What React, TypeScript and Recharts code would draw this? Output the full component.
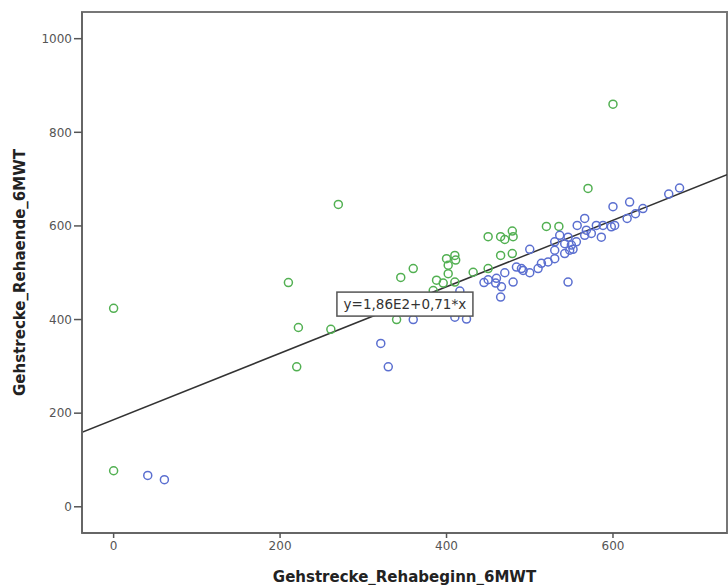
import {
  ScatterChart,
  Scatter,
  XAxis,
  YAxis,
  ReferenceLine,
  ReferenceArea,
  ReferenceDot,
} from "recharts";

// 6MWT walking distance at start of rehab (x) vs. end of rehab (y)
const greenStart = [0, 0, 210, 222, 220, 261, 270, 340, 345, 360, 384, 388, 396, 400, 410, 411, 402, 402, 410, 432, 450, 450, 465, 470, 479, 480, 465, 479, 520, 535, 570, 600];
const greenEnd = [424, 77, 479, 383, 299, 379, 646, 400, 490, 509, 462, 484, 478, 530, 537, 527, 516, 498, 480, 501, 509, 577, 577, 571, 589, 577, 537, 541, 599, 599, 680, 860];

const blueStart = [41, 61, 321, 330, 360, 410, 424, 416, 445, 450, 459, 460, 466, 465, 470, 480, 484, 490, 492, 500, 500, 510, 514, 522, 530, 530, 542, 548, 546, 536, 546, 530, 542, 550, 556, 566, 568, 574, 586, 557, 566, 580, 588, 598, 602, 600, 617, 627, 620, 636, 667, 680, 552];
const blueEnd = [67, 58, 349, 299, 400, 405, 401, 461, 479, 485, 478, 488, 470, 448, 500, 480, 512, 509, 505, 500, 550, 509, 520, 523, 530, 548, 541, 548, 480, 580, 576, 566, 562, 559, 566, 580, 591, 584, 576, 601, 616, 601, 601, 598, 601, 641, 616, 626, 651, 637, 668, 681, 550];

const xTicks = [0, 200, 400, 600];
const yTicks = [0, 200, 400, 600, 800, 1000];

// linear fit shown in the plot
const intercept = 186;
const slope = 0.71;
const fitLabel = "y=1,86E2+0,71*x";

const X_MIN = -38;
const X_MAX = 737;
const Y_MIN = -56;
const Y_MAX = 1057;

const green = greenStart.map((x, i) => ({ x, y: greenEnd[i] }));
const blue = blueStart.map((x, i) => ({ x, y: blueEnd[i] }));

const FONT = "'DejaVu Sans', Verdana, sans-serif";

function ring(color: string) {
  return (props: any) => (
    <circle
      cx={props.cx}
      cy={props.cy}
      r={4}
      fill="none"
      stroke={color}
      strokeWidth={1.5}
    />
  );
}

function FitLabel(props: any) {
  const { cx, cy } = props;
  const w = 136;
  const h = 24;
  return (
    <g>
      <rect
        x={cx - w / 2}
        y={cy - h / 2}
        width={w}
        height={h}
        fill="#fff"
        stroke="#555"
        strokeWidth={1.5}
      />
      <text
        x={cx}
        y={cy + 5}
        textAnchor="middle"
        fontFamily={FONT}
        fontSize={13.5}
        fill="#333"
      >
        {fitLabel}
      </text>
    </g>
  );
}

export default function App() {
  return (
    <div style={{ position: "absolute", left: 0, top: 0, background: "#fff" }}>
      <ScatterChart
        width={728}
        height={585}
        margin={{ top: 12, right: 1, bottom: 0, left: 0 }}
      >
        <ReferenceArea
          x1={X_MIN}
          x2={X_MAX}
          y1={Y_MIN}
          y2={Y_MAX}
          fill="none"
          stroke="#777"
          strokeWidth={2}
          ifOverflow="visible"
        />
        <XAxis
          type="number"
          dataKey="x"
          domain={[X_MIN, X_MAX]}
          ticks={xTicks}
          allowDataOverflow
          height={52}
          tickSize={5}
          tickMargin={3}
          axisLine={{ stroke: "#666", strokeWidth: 2 }}
          tickLine={{ stroke: "#555", strokeWidth: 1.5 }}
          tick={{ fontFamily: FONT, fontSize: 12, fill: "#555" }}
          label={{
            value: "Gehstrecke_Rehabeginn_6MWT",
            position: "insideBottom",
            offset: 3,
            style: {
              fontFamily: FONT,
              fontSize: 15,
              fontWeight: "bold",
              fill: "#222",
            },
          }}
        />
        <YAxis
          type="number"
          dataKey="y"
          domain={[Y_MIN, Y_MAX]}
          ticks={yTicks}
          allowDataOverflow
          width={82}
          tickSize={8}
          tickMargin={2}
          axisLine={{ stroke: "#666", strokeWidth: 2 }}
          tickLine={{ stroke: "#555", strokeWidth: 1.5 }}
          tick={{ fontFamily: FONT, fontSize: 12, fill: "#555" }}
          label={{
            value: "Gehstrecke_Rehaende_6MWT",
            angle: -90,
            position: "insideLeft",
            offset: 20,
            style: {
              textAnchor: "middle",
              fontFamily: FONT,
              fontSize: 15,
              fontWeight: "bold",
              fill: "#222",
            },
          }}
        />
        <Scatter
          data={green}
          shape={ring("#52b052")}
          isAnimationActive={false}
        />
        <Scatter
          data={blue}
          shape={ring("#5b6fd0")}
          isAnimationActive={false}
        />
        <ReferenceLine
          segment={[
            { x: X_MIN, y: intercept + slope * X_MIN },
            { x: X_MAX, y: intercept + slope * X_MAX },
          ]}
          stroke="#333"
          strokeWidth={1.5}
          ifOverflow="hidden"
        />
        <ReferenceDot
          x={350}
          y={433}
          r={0}
          shape={FitLabel}
          ifOverflow="visible"
        />
      </ScatterChart>
    </div>
  );
}
